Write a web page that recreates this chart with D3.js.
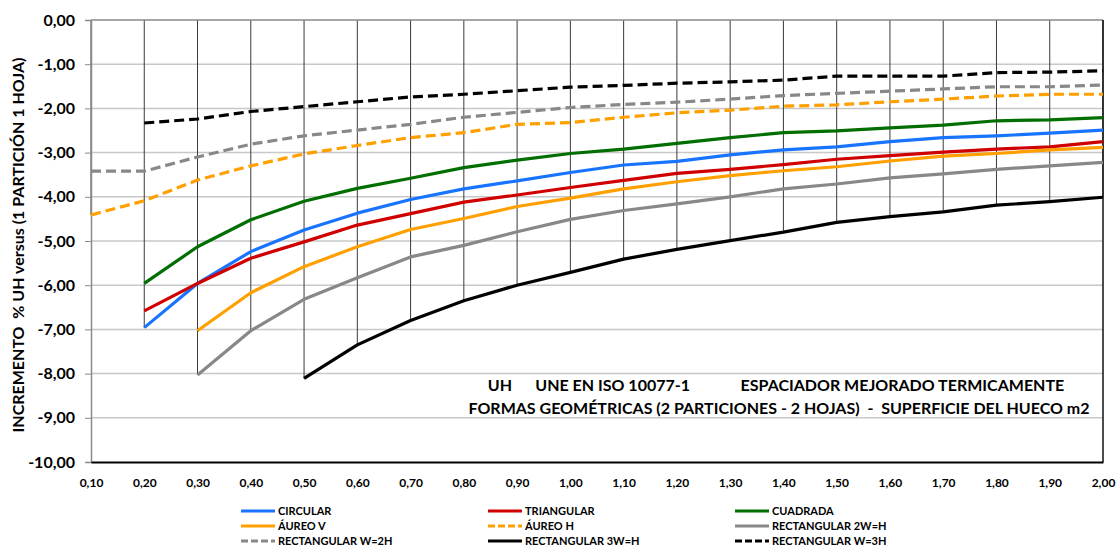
<!DOCTYPE html>
<html>
<head>
<meta charset="utf-8">
<script src="https://cdn.jsdelivr.net/npm/d3@7"></script>
<style>
  html, body { margin: 0; padding: 0; background: #fff; }
  svg { display: block; font-family: Lato, "Open Sans", sans-serif; font-weight: bold; }
</style>
</head>
<body>
<svg id="chart" width="1117" height="546"></svg>
<script>
// Surface of the window opening (m2)
const superficie = [0.10, 0.20, 0.30, 0.40, 0.50, 0.60, 0.70, 0.80, 0.90, 1.00,
                    1.10, 1.20, 1.30, 1.40, 1.50, 1.60, 1.70, 1.80, 1.90, 2.00];
const xTickLabels = ["0,10","0,20","0,30","0,40","0,50","0,60","0,70","0,80","0,90","1,00",
                     "1,10","1,20","1,30","1,40","1,50","1,60","1,70","1,80","1,90","2,00"];
const yTicks = [0, -1, -2, -3, -4, -5, -6, -7, -8, -9, -10];
const yTickLabels = ["0,00", "-1,00", "-2,00", "-3,00", "-4,00", "-5,00", "-6,00", "-7,00", "-8,00", "-9,00", "-10,00"];

// % increment of UH per geometric shape (null = no value for that surface)
const circular    = [null, -6.96, -5.96, -5.24, -4.75, -4.37, -4.06, -3.82, -3.64, -3.45, -3.28, -3.20, -3.05, -2.94, -2.87, -2.75, -2.66, -2.62, -2.56, -2.49];
const triangular  = [null, -6.58, -5.96, -5.39, -5.02, -4.64, -4.38, -4.12, -3.96, -3.79, -3.63, -3.47, -3.38, -3.27, -3.15, -3.07, -2.99, -2.92, -2.87, -2.75];
const cuadrada    = [null, -5.96, -5.13, -4.52, -4.10, -3.81, -3.58, -3.34, -3.17, -3.02, -2.92, -2.79, -2.66, -2.55, -2.51, -2.44, -2.38, -2.28, -2.26, -2.21];
const aureoV      = [null, null, -7.03, -6.17, -5.58, -5.13, -4.74, -4.49, -4.22, -4.03, -3.82, -3.66, -3.52, -3.41, -3.32, -3.19, -3.08, -3.02, -2.94, -2.88];
const aureoH      = [-4.41, -4.09, -3.62, -3.30, -3.03, -2.84, -2.66, -2.55, -2.36, -2.32, -2.20, -2.10, -2.04, -1.95, -1.92, -1.85, -1.79, -1.72, -1.68, -1.68];
const rect2W_H    = [null, null, -8.03, -7.03, -6.32, -5.83, -5.36, -5.10, -4.79, -4.51, -4.31, -4.16, -4.00, -3.82, -3.71, -3.57, -3.48, -3.38, -3.30, -3.22];
const rectW_2H    = [-3.42, -3.42, -3.10, -2.81, -2.62, -2.49, -2.36, -2.20, -2.09, -1.98, -1.91, -1.86, -1.79, -1.71, -1.66, -1.61, -1.56, -1.51, -1.51, -1.47];
const rect3W_H    = [null, null, null, null, -8.11, -7.35, -6.80, -6.35, -6.00, -5.71, -5.41, -5.19, -4.99, -4.80, -4.58, -4.45, -4.34, -4.19, -4.11, -4.01];
const rectW_3H    = [null, -2.33, -2.24, -2.07, -1.96, -1.85, -1.74, -1.68, -1.60, -1.52, -1.48, -1.43, -1.40, -1.36, -1.27, -1.27, -1.27, -1.19, -1.18, -1.15];

const seriesNames = ["CIRCULAR", "TRIANGULAR", "CUADRADA",
                     "ÁUREO V", "ÁUREO H", "RECTANGULAR 2W=H",
                     "RECTANGULAR W=2H", "RECTANGULAR 3W=H", "RECTANGULAR W=3H"];
const seriesValues = [circular, triangular, cuadrada, aureoV, aureoH, rect2W_H, rectW_2H, rect3W_H, rectW_3H];
const seriesColors = ["#1874ff", "#d00000", "#006e00", "#ffa000", "#ffa000", "#888888", "#888888", "#000000", "#000000"];
const seriesDashed = [false, false, false, false, true, false, true, false, true];

const series = seriesNames.map((name, i) => ({
  name, color: seriesColors[i], dashed: seriesDashed[i],
  points: superficie.map((x, j) => ({ x, y: seriesValues[i][j] }))
}));

const svg = d3.select("#chart");
const plotLeft = 91, plotRight = 1103, plotTop = 20, plotBottom = 462;

const x = d3.scaleLinear().domain([0.10, 2.00]).range([plotLeft, plotRight]);
const y = d3.scaleLinear().domain([-10, 0]).range([plotBottom, plotTop]);

// horizontal gridlines
svg.append("g")
  .selectAll("line").data(yTicks.filter(t => t !== 0 && t !== -10)).join("line")
  .attr("x1", plotLeft).attr("x2", plotRight)
  .attr("y1", d => y(d)).attr("y2", d => y(d))
  .attr("stroke", "#c8c8c8").attr("stroke-width", 1.5);

// vertical drop lines from the top of the plot down to the lowest value at each surface
const lowest = superficie.map((s, j) => ({
  x: s,
  min: d3.min(seriesValues, arr => arr[j] === null ? undefined : arr[j])
}));
svg.append("g")
  .selectAll("line").data(lowest).join("line")
  .attr("x1", d => x(d.x)).attr("x2", d => x(d.x))
  .attr("y1", y(0)).attr("y2", d => y(d.min))
  .attr("stroke", "#3a3a3a").attr("stroke-width", 1);

// plot frame
svg.append("line").attr("x1", plotLeft).attr("x2", plotRight).attr("y1", plotTop).attr("y2", plotTop)
  .attr("stroke", "#8a8a8a").attr("stroke-width", 1.5);
svg.append("line").attr("x1", plotRight).attr("x2", plotRight).attr("y1", plotTop).attr("y2", plotBottom)
  .attr("stroke", "#111").attr("stroke-width", 1.5);

// y axis
const yAxis = d3.axisLeft(y).tickValues(yTicks).tickSize(6).tickPadding(10)
  .tickFormat((d, i) => yTickLabels[i]);
const gy = svg.append("g").attr("transform", `translate(${plotLeft},0)`).call(yAxis);
gy.select(".domain").attr("stroke", "#8a8a8a").attr("stroke-width", 1.5);
gy.selectAll(".tick line").attr("stroke", "#8a8a8a");
gy.selectAll(".tick text").attr("font-size", 16).attr("font-weight", "bold")
  .attr("font-family", "Lato, sans-serif").attr("fill", "#000");

// x axis
const xAxis = d3.axisBottom(x).tickValues(superficie).tickSize(0).tickPadding(16)
  .tickFormat((d, i) => xTickLabels[i]);
const gx = svg.append("g").attr("transform", `translate(0,${plotBottom})`).call(xAxis);
gx.select(".domain").attr("stroke", "#000").attr("stroke-width", 2);
gx.selectAll(".tick text").attr("font-size", 12).attr("font-weight", "bold")
  .attr("font-family", "Lato, sans-serif").attr("fill", "#000");

// series lines
const line = d3.line()
  .defined(d => d.y !== null)
  .x(d => x(d.x)).y(d => y(d.y));
svg.append("g")
  .selectAll("path").data(series).join("path")
  .attr("d", d => line(d.points))
  .attr("fill", "none")
  .attr("stroke", d => d.color)
  .attr("stroke-width", 3.2)
  .attr("stroke-dasharray", d => d.dashed ? "10,5" : null)
  .attr("stroke-linejoin", "round");

// annotation text inside the plot
const note = svg.append("g").attr("font-size", 16).attr("fill", "#000")
  .attr("font-family", "Lato, sans-serif").attr("font-weight", "bold");
note.append("text").attr("x", 776).attr("y", 391).attr("text-anchor", "middle")
  .style("white-space", "pre")
  .text("UH      UNE EN ISO 10077-1             ESPACIADOR MEJORADO TERMICAMENTE");
note.append("text").attr("x", 779).attr("y", 414).attr("text-anchor", "middle")
  .style("white-space", "pre")
  .text("FORMAS GEOMÉTRICAS (2 PARTICIONES - 2 HOJAS)  -  SUPERFICIE DEL HUECO m2");

// y axis title
svg.append("text")
  .attr("transform", "translate(24,245) rotate(-90)")
  .attr("text-anchor", "middle")
  .attr("font-size", 16).attr("font-family", "Lato, sans-serif").attr("font-weight", "bold")
  .style("white-space", "pre")
  .text("INCREMENTO  % UH versus (1 PARTICIÓN 1 HOJA)");

// legend: three columns, three rows
const colX = [241, 488, 735];
const rowY = [511, 526, 541];
const legend = svg.append("g").selectAll("g").data(series).join("g")
  .attr("transform", (d, i) => `translate(${colX[i % 3]},${rowY[Math.floor(i / 3)]})`);
legend.append("line")
  .attr("x1", 0).attr("x2", 34).attr("y1", 0).attr("y2", 0)
  .attr("stroke", d => d.color).attr("stroke-width", 3)
  .attr("stroke-dasharray", d => d.dashed ? "7,3" : null);
legend.append("text")
  .attr("x", 37).attr("y", 4)
  .attr("font-size", 11).attr("font-family", "Lato, sans-serif").attr("font-weight", "bold")
  .text(d => d.name);
</script>
</body>
</html>
